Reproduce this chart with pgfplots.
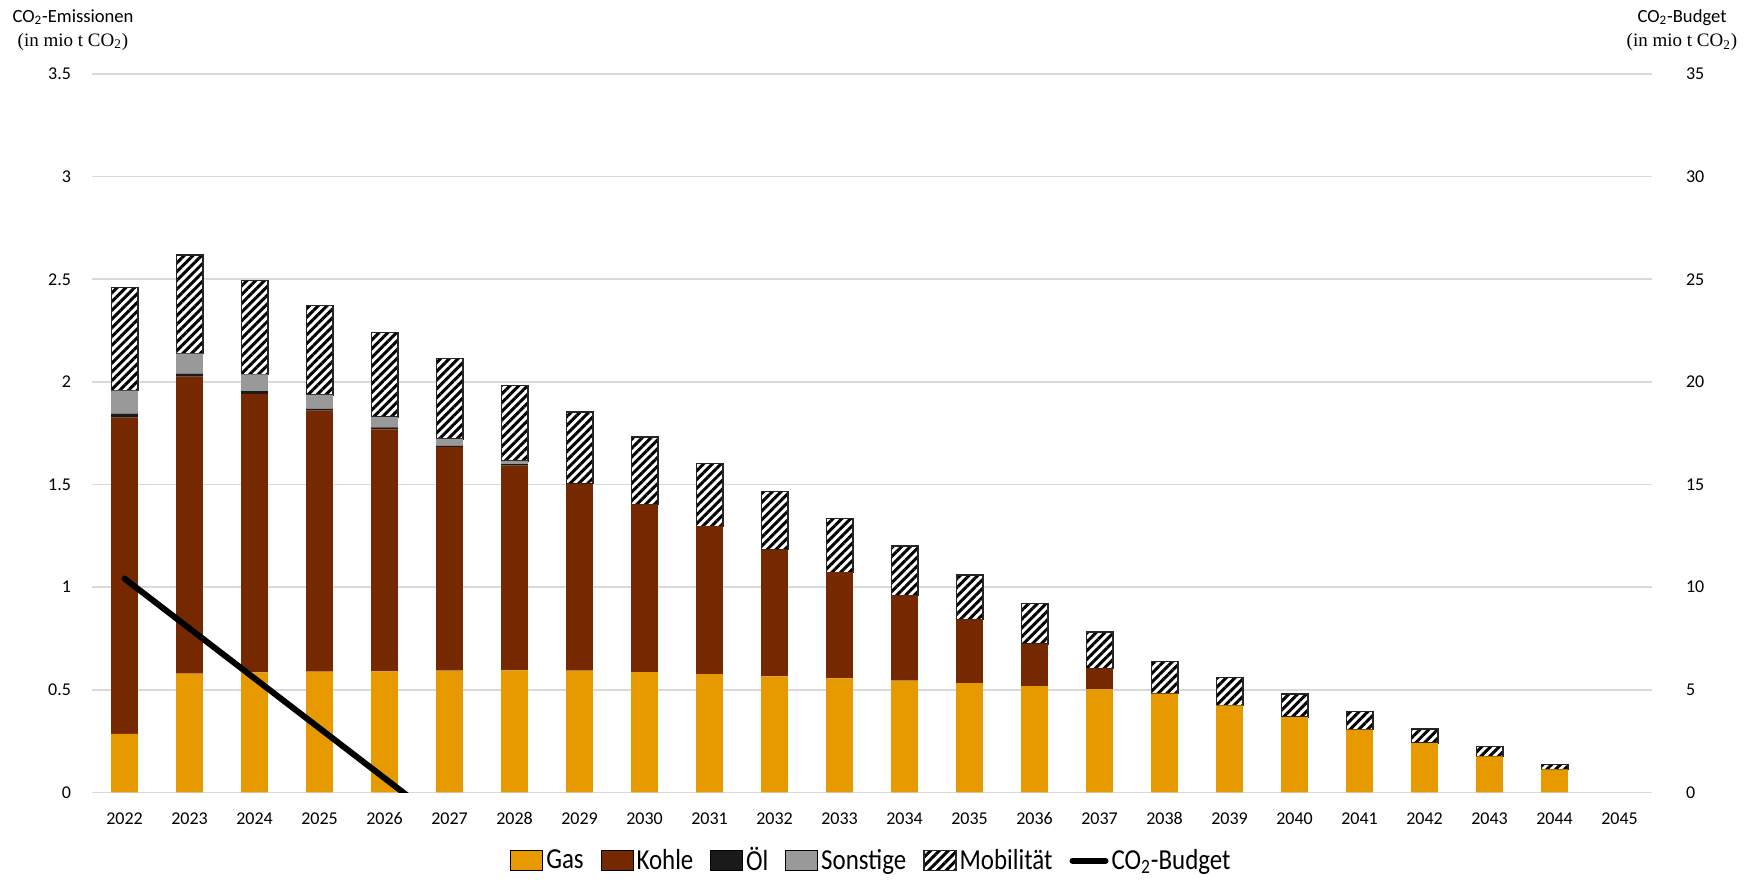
\documentclass[border=0pt]{standalone}
\usepackage{fontspec}
\setmainfont{Carlito}
\newfontfamily\serifcam{Liberation Serif}
\newfontfamily\legfont[FakeStretch=0.86]{Carlito}
\usepackage{pgfplots}
\usepackage{pgfplotstable}
\pgfplotsset{compat=1.18}
\usetikzlibrary{patterns.meta}
\definecolor{gasc}{RGB}{230,154,0}
\definecolor{kohlec}{RGB}{118,40,0}
\definecolor{oelc}{RGB}{26,26,26}
\definecolor{sonc}{RGB}{153,153,153}
\definecolor{gridc}{RGB}{217,217,217}

\pgfplotstableread{
x gas kohle oel son mob
0 0.286 1.540 0.019 0.112 0.502
1 0.579 1.447 0.014 0.098 0.481
2 0.585 1.357 0.013 0.082 0.458
3 0.589 1.271 0.009 0.068 0.434
4 0.590 1.179 0.010 0.050 0.413
5 0.594 1.089 0.005 0.034 0.392
6 0.595 0.997 0.007 0.016 0.369
7 0.594 0.909 0.002 0.000 0.348
8 0.586 0.818 0.000 0.000 0.327
9 0.577 0.720 0.000 0.000 0.305
10 0.566 0.617 0.000 0.000 0.284
11 0.556 0.517 0.000 0.000 0.263
12 0.545 0.415 0.000 0.000 0.240
13 0.533 0.310 0.000 0.000 0.217
14 0.518 0.206 0.000 0.000 0.198
15 0.502 0.102 0.000 0.000 0.177
16 0.482 0.000 0.000 0.000 0.156
17 0.424 0.000 0.000 0.000 0.137
18 0.367 0.000 0.000 0.000 0.112
19 0.306 0.000 0.000 0.000 0.089
20 0.241 0.000 0.000 0.000 0.068
21 0.176 0.000 0.000 0.000 0.049
22 0.113 0.000 0.000 0.000 0.024
23 0.000 0.000 0.000 0.000 0.000
}\data

\pgfplotsset{
  boxleg/.style={legend image code/.code={\draw[##1] (0pt,-5pt) rectangle (16pt,5pt);}},
  lineleg/.style={legend image code/.code={\draw[##1] (1.5pt,0pt) -- (18pt,0pt);}},
  common/.style={
    scale only axis, width=780pt, height=359.25pt,
    at={(46pt,47.25pt)}, anchor=south west,
    xmin=-0.5, xmax=23.5,
    axis line style={draw=none},
    major tick length=0pt,
    tick style={draw=none},
    /pgf/number format/assume math mode=true,
    tick label style={font=\fontsize{9}{11}\selectfont},
  }
}

\begin{document}
\begin{tikzpicture}
\path[use as bounding box] (0,0) rectangle (873pt,443.5pt);

\begin{axis}[common,
  ybar stacked, bar width=13.3pt,
  ymin=0, ymax=3.5, ytick={0,0.5,...,3.5},
  yticklabels={0,0.5,1,1.5,2,2.5,3,3.5},
  ymajorgrids, major grid style={gridc, line width=0.8pt},
  xtick={0,...,23},
  xticklabels={2022,2023,2024,2025,2026,2027,2028,2029,2030,2031,2032,2033,2034,2035,2036,2037,2038,2039,2040,2041,2042,2043,2044,2045},
  xticklabel style={yshift=-6.5pt},
  yticklabel style={xshift=-7pt},
  legend columns=6,
  legend style={at={(0.5,-0.095)}, anchor=center, draw=none, fill=none,
    font=\legfont\fontsize{14.5}{16}\selectfont,
    nodes={inner xsep=1.5pt},
    /tikz/every even column/.append style={column sep=7pt},
    /tikz/every odd column/.append style={column sep=0pt}},
]
\addplot[boxleg, fill=gasc, draw=none] table[x=x,y=gas]{\data};
\addlegendentry{Gas}
\addplot[boxleg, fill=kohlec, draw=none] table[x=x,y=kohle]{\data};
\addlegendentry{Kohle}
\addplot[boxleg, fill=oelc, draw=none] table[x=x,y=oel]{\data};
\addlegendentry{Öl}
\addplot[boxleg, fill=sonc, draw=none] table[x=x,y=son]{\data};
\addlegendentry{Sonstige}
\addplot[boxleg, draw=black!85, line width=0.7pt, fill=white,
  postaction={pattern={Lines[angle=45,distance=3.1pt,line width=1.5pt]}, pattern color=black}] table[x=x,y=mob]{\data};
\addlegendentry{Mobilität}
\addlegendimage{lineleg, black, line width=3pt, line cap=round}
\addlegendentry{CO\textsubscript{2}-Budget}
\end{axis}

\begin{axis}[common,
  ymin=0, ymax=35, ytick={0,5,...,35},
  axis x line=none,
  axis y line*=right,
  yticklabel style={xshift=13.5pt, anchor=west},
]
\addplot[black, line width=3pt, line cap=round, line join=round] coordinates {
(0,10.42) (1,7.99) (2,5.56) (3,3.13) (4,0.70) (5,-1.73)};
\end{axis}

\node[align=center, inner sep=0pt] at (36.5pt,428.5pt)
  {\fontsize{9.3}{10}\selectfont CO\textsubscript{2}-Emissionen\\[0pt]
   {\serifcam\fontsize{9.5}{10}\selectfont (in mio t CO\textsubscript{2})}};
\node[align=center, inner sep=0pt] at (841pt,428.5pt)
  {\fontsize{9.3}{10}\selectfont CO\textsubscript{2}-Budget\\[0pt]
   {\serifcam\fontsize{9.5}{10}\selectfont (in mio t CO\textsubscript{2})}};
\end{tikzpicture}
\end{document}
